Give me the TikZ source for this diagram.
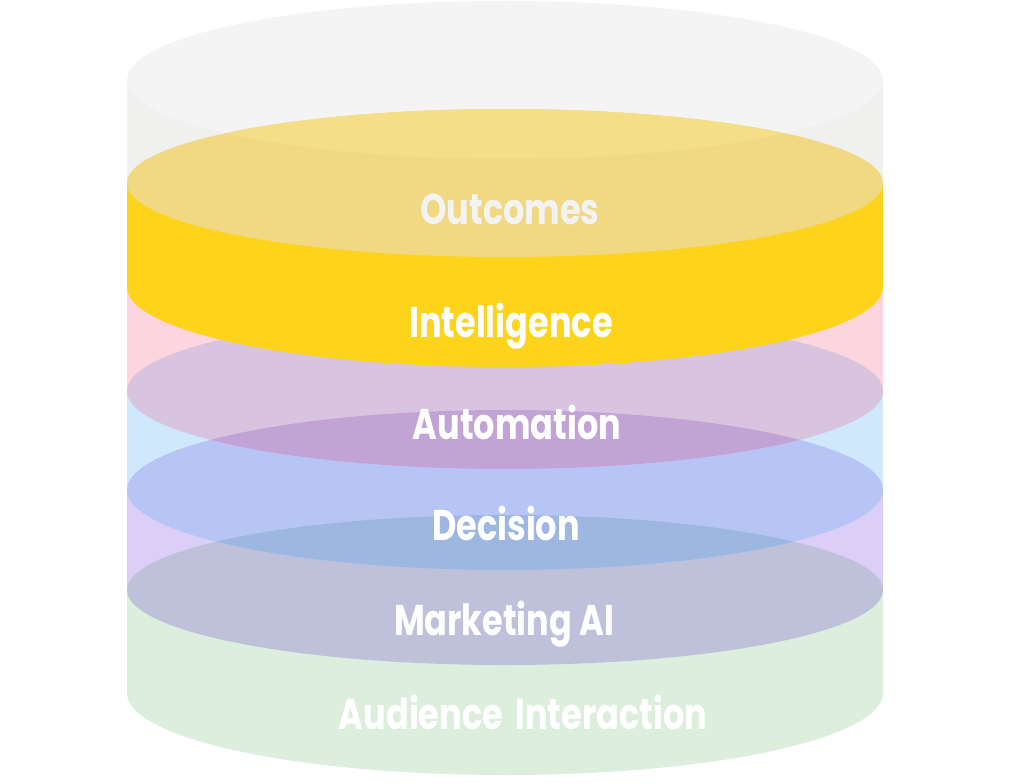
\documentclass[tikz,border=0pt]{standalone}
\usepackage{fontspec}
\newfontfamily\labfont{Poppins}[FakeStretch=0.78]
\definecolor{greyTop}{HTML}{F4F4F4}
\definecolor{greySide}{HTML}{F0F0EF}
\definecolor{yelTopGrey}{HTML}{F4DF87}
\definecolor{yelTop}{HTML}{F0D982}
\definecolor{yelSide}{HTML}{FED31B}
\definecolor{pinkSide}{HTML}{FDD5DF}
\definecolor{autoEl}{HTML}{D9C4DF}
\definecolor{blueSide}{HTML}{CFE8FB}
\definecolor{autoDec}{HTML}{C1A3D6}
\definecolor{decEl}{HTML}{B6C5F5}
\definecolor{lavSide}{HTML}{DCCFF7}
\definecolor{decMk}{HTML}{9EB7E0}
\definecolor{mkEl}{HTML}{BFC1DB}
\definecolor{greenSide}{HTML}{DDEEDD}
\definecolor{outText}{HTML}{F3F3F3}
\tikzset{
  lab/.style={font=\labfont\bfseries\fontsize{43}{43}\selectfont, text=white, anchor=base, inner sep=0pt},
}
\begin{document}
\begin{tikzpicture}[x=1pt,y=-1pt]
\useasboundingbox (0,0) rectangle (1010,784);
% green layer
\fill[greenSide] (127,590) rectangle (883,693);
\fill[greenSide] (505,693) ellipse [x radius=378, y radius=82];
% side bands
\fill[lavSide] (127,490) rectangle (883,590);
\fill[blueSide] (127,391) rectangle (883,490);
\fill[pinkSide] (127,287) rectangle (883,391);
% marketing ellipse
\fill[mkEl] (505,590) ellipse [x radius=378, y radius=75];
% decision ellipse
\fill[decEl] (505,490) ellipse [x radius=378, y radius=80];
\begin{scope}
  \clip (505,590) ellipse [x radius=378, y radius=75];
  \fill[decMk] (505,490) ellipse [x radius=378, y radius=80];
\end{scope}
% automation ellipse
\fill[autoEl] (505,391) ellipse [x radius=378, y radius=78];
\begin{scope}
  \clip (505,391) ellipse [x radius=378, y radius=78];
  \fill[autoDec] (505,490) ellipse [x radius=378, y radius=80];
\end{scope}
% yellow body
\fill[yelSide] (127,183) rectangle (883,287);
\fill[yelSide] (505,287) ellipse [x radius=378, y radius=80];
% grey layer
\fill[greySide] (127,80) rectangle (883,183);
\fill[greyTop] (505,80) ellipse [x radius=378, y radius=79];
% yellow top ellipse
\fill[yelTop] (505,183) ellipse [x radius=378, y radius=74];
\begin{scope}
  \clip (505,80) ellipse [x radius=378, y radius=79];
  \fill[yelTopGrey] (505,183) ellipse [x radius=378, y radius=74];
\end{scope}
% labels
\node[lab, text=outText] (outcomes) at (510,224) {Outcomes};
\node[lab] (intelligence) at (511,337) {Intelligence};
\node[lab] (automation) at (517,439) {Automation};
\node[lab] (decision) at (506,540) {Decision};
\node[lab] (marketing) at (504,635) {Marketing AI};
\node[lab] (audience) at (523,729) {Audience\hspace{0.12em} Interaction};
\end{tikzpicture}
\end{document}
